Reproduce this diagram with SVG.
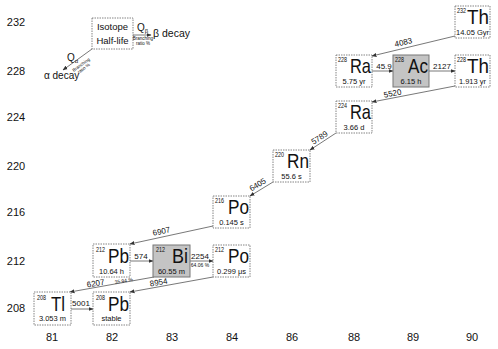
<svg xmlns="http://www.w3.org/2000/svg" width="498" height="349" viewBox="0 0 498 349">
<defs>
<marker id="ah" viewBox="0 0 10 10" refX="9" refY="5" markerWidth="5" markerHeight="5" orient="auto" markerUnits="userSpaceOnUse"><path d="M0,1 L10,5 L0,9 z" fill="#333"/></marker>
</defs>
<style>
text{font-family:"Liberation Sans",Arial,sans-serif;fill:#111}
.box{fill:#fff;stroke:#666;stroke-width:0.8;stroke-dasharray:1.5,1}
.grey{fill:#c4c4c4;stroke:#777;stroke-width:1}
.sup{font-size:6.5px}
.sym{font-size:21px;text-anchor:end}
.hl{font-size:7.5px;text-anchor:middle}
.ax{font-size:11px;text-anchor:middle}
.lbl{font-size:8px;text-anchor:middle}
.tiny{font-size:4.5px;text-anchor:middle}
.c{stroke:#555;stroke-width:0.8;fill:none;marker-end:url(#ah)}
</style>
<rect width="498" height="349" fill="#fff"/>
<g id="axes">
<text class="ax" x="16" y="26">232</text>
<text class="ax" x="16" y="75">228</text>
<text class="ax" x="16" y="121">224</text>
<text class="ax" x="16" y="170">220</text>
<text class="ax" x="16" y="216">216</text>
<text class="ax" x="16" y="265">212</text>
<text class="ax" x="16" y="312">208</text>
<text class="ax" x="52" y="341">81</text>
<text class="ax" x="112" y="341">82</text>
<text class="ax" x="172" y="341">83</text>
<text class="ax" x="232" y="341">84</text>
<text class="ax" x="292" y="341">86</text>
<text class="ax" x="354" y="341">88</text>
<text class="ax" x="413" y="341">89</text>
<text class="ax" x="472" y="341">90</text>
</g>
<g id="legend">
<rect class="box" x="92" y="18" width="41" height="31"/>
<text x="112.5" y="30" font-size="9.5" text-anchor="middle">Isotope</text>
<text x="112.5" y="44" font-size="9.5" text-anchor="middle">Half-life</text>
<line class="c" x1="133" y1="35" x2="151" y2="35"/>
<text x="137" y="31" font-size="10">Q<tspan font-size="6" dy="1.5">β</tspan></text>
<text class="tiny" x="143" y="40">Branching</text>
<text class="tiny" x="143" y="44.5">ratio %</text>
<text x="153" y="37" font-size="10.5">β decay</text>
<line class="c" x1="92" y1="49" x2="63" y2="70"/>
<text x="67" y="61" font-size="10">Q<tspan font-size="6" dy="1.5">α</tspan></text>
<g transform="translate(82,66) rotate(-36)"><text class="tiny" x="0" y="0">Branching</text><text class="tiny" x="0" y="4.5">ratio %</text></g>
<text x="44" y="79" font-size="10">α decay</text>
</g>
<g id="connectors">
<line class="c" x1="455" y1="36" x2="372" y2="56"/>
<text class="lbl" transform="translate(404,45) rotate(-13)">4083</text>
<line class="c" x1="372" y1="71" x2="393" y2="71"/>
<text class="lbl" x="384" y="69" font-size="7">45.9</text>
<line class="c" x1="429" y1="71" x2="455" y2="71"/>
<text class="lbl" x="442" y="69">2127</text>
<line class="c" x1="455" y1="86" x2="372" y2="102"/>
<text class="lbl" transform="translate(393,96) rotate(-11)">5520</text>
<line class="c" x1="336" y1="133" x2="310" y2="150"/>
<text class="lbl" transform="translate(321,140) rotate(-33)">5789</text>
<line class="c" x1="273" y1="182" x2="250" y2="196"/>
<text class="lbl" transform="translate(259,187) rotate(-31)">6405</text>
<line class="c" x1="213" y1="226" x2="130" y2="244"/>
<text class="lbl" transform="translate(162,234) rotate(-12)">6907</text>
<line class="c" x1="130" y1="261" x2="153" y2="261"/>
<text class="lbl" x="141" y="258.5">574</text>
<line class="c" x1="190" y1="261" x2="213" y2="261"/>
<text class="lbl" x="200" y="258.5">2254</text>
<text x="200" y="266.5" font-size="5" text-anchor="middle">64.06 %</text>
<line class="c" x1="154" y1="277" x2="70" y2="292"/>
<text class="lbl" transform="translate(96,286) rotate(-10)">6207</text>
<text transform="translate(124,282.5) rotate(-10)" font-size="5" text-anchor="middle">35.94 %</text>
<line class="c" x1="213" y1="277" x2="130" y2="292"/>
<text class="lbl" transform="translate(159,285) rotate(-10)">8954</text>
<line class="c" x1="70" y1="309" x2="93" y2="309"/>
<text class="lbl" x="81" y="306">5001</text>
</g>
<g id="Th232"><rect class="box" x="455" y="6" width="35" height="32"/><text class="sup" x="457" y="13" textLength="9" lengthAdjust="spacingAndGlyphs">232</text><text class="sym" x="489" y="24" textLength="22" lengthAdjust="spacingAndGlyphs">Th</text><text class="hl" x="472.5" y="35">14.05 Gyr</text></g>
<g id="Ra228"><rect class="box" x="336" y="55" width="36" height="32"/><text class="sup" x="338" y="62" textLength="9" lengthAdjust="spacingAndGlyphs">228</text><text class="sym" x="371" y="73" textLength="21" lengthAdjust="spacingAndGlyphs">Ra</text><text class="hl" x="354" y="84">5.75 yr</text></g>
<g id="Ac228"><rect class="grey" x="393" y="55" width="36" height="32"/><text class="sup" x="395" y="62" textLength="9" lengthAdjust="spacingAndGlyphs">228</text><text class="sym" x="428" y="73" textLength="20" lengthAdjust="spacingAndGlyphs">Ac</text><text class="hl" x="411" y="84">6.15 h</text></g>
<g id="Th228"><rect class="box" x="455" y="55" width="35" height="32"/><text class="sup" x="457" y="62" textLength="9" lengthAdjust="spacingAndGlyphs">228</text><text class="sym" x="489" y="73" textLength="22" lengthAdjust="spacingAndGlyphs">Th</text><text class="hl" x="472.5" y="84">1.913 yr</text></g>
<g id="Ra224"><rect class="box" x="336" y="101" width="36" height="32"/><text class="sup" x="338" y="108" textLength="9" lengthAdjust="spacingAndGlyphs">224</text><text class="sym" x="371" y="119" textLength="21" lengthAdjust="spacingAndGlyphs">Ra</text><text class="hl" x="354" y="130">3.66 d</text></g>
<g id="Rn220"><rect class="box" x="273" y="150" width="37" height="32"/><text class="sup" x="275" y="157" textLength="9" lengthAdjust="spacingAndGlyphs">220</text><text class="sym" x="309" y="168" textLength="22" lengthAdjust="spacingAndGlyphs">Rn</text><text class="hl" x="291.5" y="179">55.6 s</text></g>
<g id="Po216"><rect class="box" x="213" y="196" width="37" height="32"/><text class="sup" x="215" y="203" textLength="9" lengthAdjust="spacingAndGlyphs">216</text><text class="sym" x="249" y="214" textLength="21" lengthAdjust="spacingAndGlyphs">Po</text><text class="hl" x="231.5" y="225">0.145 s</text></g>
<g id="Pb212"><rect class="box" x="93" y="244" width="37" height="33"/><text class="sup" x="96" y="252" textLength="9" lengthAdjust="spacingAndGlyphs">212</text><text class="sym" x="129" y="263" textLength="21" lengthAdjust="spacingAndGlyphs">Pb</text><text class="hl" x="111.5" y="274">10.64 h</text></g>
<g id="Bi212"><rect class="grey" x="153" y="245" width="37" height="32"/><text class="sup" x="156" y="252" textLength="9" lengthAdjust="spacingAndGlyphs">212</text><text class="sym" x="188" y="263" textLength="16" lengthAdjust="spacingAndGlyphs">Bi</text><text class="hl" x="171.5" y="274">60.55 m</text></g>
<g id="Po212"><rect class="box" x="213" y="245" width="37" height="32"/><text class="sup" x="215" y="252" textLength="9" lengthAdjust="spacingAndGlyphs">212</text><text class="sym" x="249" y="263" textLength="21" lengthAdjust="spacingAndGlyphs">Po</text><text class="hl" x="231.5" y="274">0.299 μs</text></g>
<g id="Tl208"><rect class="box" x="34" y="292" width="37" height="33"/><text class="sup" x="37" y="300" textLength="9" lengthAdjust="spacingAndGlyphs">208</text><text class="sym" x="65" y="311" textLength="14" lengthAdjust="spacingAndGlyphs">Tl</text><text class="hl" x="52.5" y="321">3.053 m</text></g>
<g id="Pb208"><rect class="box" x="93" y="292" width="37" height="33"/><text class="sup" x="96" y="300" textLength="9" lengthAdjust="spacingAndGlyphs">208</text><text class="sym" x="129" y="311" textLength="21" lengthAdjust="spacingAndGlyphs">Pb</text><text class="hl" x="111.5" y="321">stable</text></g>
</svg>
